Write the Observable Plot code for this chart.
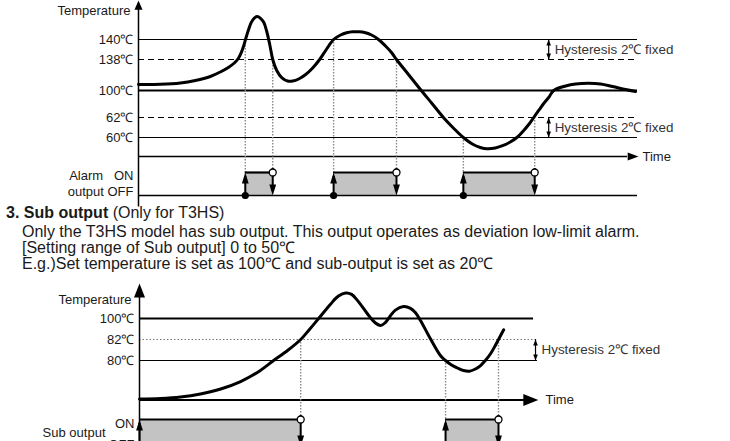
<!DOCTYPE html>
<html><head><meta charset="utf-8">
<script src="https://cdn.jsdelivr.net/npm/d3@7"></script>
<script src="https://cdn.jsdelivr.net/npm/@observablehq/plot@0.6"></script>
<style>
html,body{margin:0;padding:0;background:#fff;overflow:hidden;width:730px;height:441px}
#wrap{font-family:"Liberation Sans",Arial,Helvetica,sans-serif;color:#1a1a1a;position:relative}
#txt{height:78px;position:relative;font-size:16px;line-height:16.5px}
#txt div{position:absolute;white-space:nowrap}
svg{display:block}
</style></head><body><div id="wrap"><div id="top"></div>
<div id="txt">
<div style="left:6px;top:4.5px"><b>3. Sub output</b> (Only for T3HS)</div>
<div style="left:22px;top:23.5px">Only the T3HS model has sub output. This output operates as deviation low-limit alarm.</div>
<div style="left:22px;top:39.5px">[Setting range of Sub output] 0 to 50℃</div>
<div style="left:22px;top:55.5px">E.g.)Set temperature is set as 100℃ and sub-output is set as 20℃</div>
</div>
<div id="bot"></div></div>
<script>
// ---------- Top diagram data (alarm output) ----------
const topTime = [0, 4.4, 8.4, 11.4, 14.4, 16.4, 18.0, 19.2, 20.0, 20.6, 21.1, 21.5, 22.0, 22.6, 23.2, 23.8, 24.4, 25.1, 25.7, 26.3, 26.9, 27.7, 28.7, 29.9, 30.9, 32.1, 33.5, 34.9, 36.3, 37.7, 39.1, 40.5, 41.7, 42.9, 44.1, 45.3, 46.7, 48.1, 49.5, 50.7, 51.7, 54.1, 56.5, 58.9, 61.1, 63.1, 65.1, 66.9, 68.5, 69.9, 71.5, 73.1, 74.5, 75.95, 77.2, 78.2, 79.2, 80.2, 81.2, 82.2, 83.2, 85.6, 87.6, 90.2, 92.6, 95.0, 97.6, 99.6];
const topTemp = [107.4, 107.6, 109.2, 112.3, 117.2, 122.7, 128.2, 133.7, 138.1, 138.7, 139.4, 140.26, 142.3, 144.4, 145.5, 145.9, 145.5, 144.4, 142.05, 139.5, 138, 124.5, 115.9, 111.6, 111.6, 114.1, 119.6, 127.6, 138, 139.05, 140, 141.15, 141.74, 142.0, 141.97, 141.79, 141.15, 140, 139.35, 138.7, 138, 119.6, 101.2, 81.0, 62.05, 60.95, 60, 53.2, 49.5, 48.1, 48.9, 51.6, 55.3, 60.05, 60.7, 61.3, 62, 71.9, 81.7, 90.1, 100, 105.5, 108.0, 108.9, 108.0, 104.9, 101.2, 98.6];
const topLevels = [140, 138, 100, 62, 60];
const topTickLabels = ["140℃", "138℃", "100℃", "62℃", "60℃"];
const topLevelKinds = ["limit", "hyst", "set", "hyst", "limit"];
const topAlarmOnTimes = [21.4, 39.1, 65.1];
const topAlarmOffTimes = [26.9, 51.7, 79.4];
const topAlarmOnTemps = [140, 140, 60];
const topAlarmOffTemps = [138, 138, 62];
const topHystBands = [[138, 140], [60, 62]];
// diagram levels (the drawing is not to scale): output OFF, output ON, time axis, ticks, axis top
const topYDomain = [20, 30, 40, 60, 62, 100, 138, 140, 150];
const topOFF = 20, topON = 30, topTimeAxis = 40, topAxisTop = 150;

// ---------- Bottom diagram data (sub output) ----------
const botTime = [0, 5.3, 10.3, 15.3, 20.4, 25.4, 29.6, 33.7, 37.2, 40.5, 42.7, 45.0, 48.0, 50.0, 51.8, 53.3, 54.8, 57.3, 59.0, 60.6, 61.8, 62.8, 64.3, 66.3, 68.1, 69.3, 70.6, 73.1, 75.6, 76.9, 78.4, 79.9, 81.4, 82.9, 84.4, 85.7, 86.9, 88.2, 89.4, 90.2, 91.5];
const botTemp = [41.0, 41.5, 43.0, 46.1, 51.1, 58.7, 67.8, 80, 80.95, 82, 90.6, 100, 104.1, 106.4, 107.3, 106.9, 105.1, 101.3, 97.0, 94.0, 96.6, 100.4, 102.4, 103.4, 102.9, 101.7, 98.3, 82.6, 80.48, 80, 75.4, 72.4, 69.9, 69.2, 71.4, 74.9, 80, 80.64, 81.43, 82, 90.3];
const botLevels = [100, 82, 80];
const botTickLabels = ["100℃", "82℃", "80℃"];
const botLevelKinds = ["set", "hyst", "limit"];
const botOnTimes = [0, 76.9];
const botOffTimes = [40.5, 90.2];
const botOnTemps = [null, 80];
const botOffTemps = [82, 82];
const botHystBands = [[80, 82]];
const botYDomain = [20, 30, 40, 80, 82, 100, 110];
const botOFF = 20, botON = 30, botTimeAxis = 40, botAxisTop = 110;

// ---------- helpers ----------
function arrowHead(ratio) {
  return {draw(ctx, size) {
    const r = Math.sqrt(size / Math.PI), h = 2 * r * ratio;
    ctx.moveTo(0, 0); ctx.lineTo(-r, h); ctx.lineTo(r, h); ctx.closePath();
  }};
}
const FONT = '"Liberation Sans", Arial, Helvetica, sans-serif';
const FS = 13;

function diagram(o) {
  const curve = o.time.map((t, i) => ({t, temp: o.temp[i]}));
  const lines = o.levels.map((v, i) => ({v, label: o.labels[i], kind: o.kinds[i]}));
  const pulses = o.onTimes.map((t, i) => ({on: t, off: o.offTimes[i], onTemp: o.onTemps[i], offTemp: o.offTemps[i]}));
  const hyst = o.bands.map(([lo, hi]) => ({lo, hi, mid: (lo + hi) / 2}));
  // piecewise (not-to-scale) vertical layout of the diagram, used as the y scale transform
  const depth = d3.scaleLinear().domain(o.yDomain).range(o.yDepth);
  const T = "#1a1a1a";
  return Plot.plot({
    width: 730, height: o.height, margin: 0,
    x: {domain: [0, 100], range: o.xRange, axis: null},
    y: {transform: depth, domain: [0, o.height], range: [0, o.height], axis: null},
    style: {fontFamily: FONT, fontSize: FS + "px", color: "#000", background: "transparent", overflow: "visible"},
    marks: [
      Plot.rect(pulses, {x1: "on", x2: "off", y1: o.OFF, y2: o.ON, fill: "#c3c3c3"}),
      Plot.ruleY(lines.filter(d => d.kind === "limit"), {y: "v", x1: 0, x2: 100, stroke: "#000", strokeWidth: 1.2}),
      Plot.ruleY(lines.filter(d => d.kind === "set"), {y: "v", x1: 0, x2: o.setEnd, stroke: "#000", strokeWidth: 2}),
      Plot.ruleY(lines.filter(d => d.kind === "hyst"), {y: "v", x1: 0, x2: 100, stroke: o.hystColor, strokeWidth: 1.2, strokeDasharray: o.hystDash}),
      Plot.ruleY([o.timeAxis], {x1: 0, x2: 98, stroke: "#000", strokeWidth: o.timeWidth}),
      Plot.dot([o.timeAxis], {x: 100.2, y: d => d, r: o.timeHead[0], symbol: arrowHead(o.timeHead[1]), rotate: 90, fill: "#000", stroke: "none"}),
      Plot.ruleX(pulses.filter(d => d.onTemp != null), {x: "on", y1: "onTemp", y2: o.ON, stroke: "#8a8a8a", strokeWidth: 1.4, strokeDasharray: "1.5,1.5"}),
      Plot.ruleX(pulses, {x: "off", y1: "offTemp", y2: o.ON, stroke: "#8a8a8a", strokeWidth: 1.4, strokeDasharray: "1.5,1.5"}),
      Plot.line(curve, {x: "t", y: "temp", curve: "catmull-rom", stroke: "#000", strokeWidth: 3}),
      Plot.ruleX([0], {y1: o.OFF - 5, y2: o.axisTop - 2, stroke: "#000", strokeWidth: 1.5}),
      Plot.dot([0], {x: 0, y: o.axisTop, r: o.yHead[0], symbol: arrowHead(o.yHead[1]), fill: "#000", stroke: "none"}),
      Plot.ruleY([o.OFF], {x1: 0, x2: 100, stroke: "#000", strokeWidth: 1.5}),
      Plot.ruleY(pulses, {y: o.ON, x1: "on", x2: "off", stroke: "#000", strokeWidth: 2.2}),
      Plot.ruleX(pulses, {x: "on", y1: o.OFF, y2: o.ON, stroke: "#000", strokeWidth: 2, dy: 4}),
      Plot.dot(pulses, {x: "on", y: o.ON, r: 3.4, symbol: arrowHead(1.6), fill: "#000", stroke: "none"}),
      Plot.ruleX(pulses, {x: "off", y1: o.OFF, y2: o.ON, stroke: "#000", strokeWidth: 2, dy: -4}),
      Plot.dot(pulses, {x: "off", y: o.OFF, r: 3.4, symbol: arrowHead(1.6), rotate: 180, fill: "#000", stroke: "none"}),
      Plot.dot(pulses.filter(d => d.on > 0), {x: "on", y: o.OFF, r: 3.6, fill: "#000", stroke: "none"}),
      Plot.dot(pulses, {x: "off", y: o.ON, r: 3.5, fill: "#fff", stroke: "#000", strokeWidth: 1.3}),
      // hysteresis markers
      Plot.ruleX(hyst, {x: o.hystX, y1: "lo", y2: "hi", stroke: "#000", strokeWidth: 1.2}),
      Plot.dot(hyst, {x: o.hystX, y: "hi", r: 2.3, symbol: arrowHead(1.3), fill: "#000", stroke: "none"}),
      Plot.dot(hyst, {x: o.hystX, y: "lo", r: 2.3, symbol: arrowHead(1.3), rotate: 180, fill: "#000", stroke: "none"}),
      Plot.text(hyst, {x: o.hystX, y: "mid", text: () => "Hysteresis 2℃ fixed", dx: 6, textAnchor: "start", fill: "#333", fontSize: 13.4}),
      // labels
      Plot.text(lines, {x: 0, y: "v", text: "label", dx: -5, textAnchor: "end", fill: T, fontSize: FS}),
      Plot.text(["Temperature"], {x: 0, y: o.axisTop, dx: -8, dy: o.tempDy, textAnchor: "end", fill: T, fontSize: FS}),
      Plot.text(["Time"], {x: 100, y: o.timeAxis, dx: o.timeDx, textAnchor: "start", fill: T, fontSize: FS}),
      ...o.outLabels.map(l => Plot.text([l.text], {x: 0, y: l.y, dx: l.dx, dy: l.dy, textAnchor: "end", fill: T, fontSize: FS}))
    ]
  });
}

document.getElementById("top").append(diagram({
  height: 200, xRange: [138, 637], yDomain: topYDomain,
  yDepth: [195, 172, 156, 137, 117, 90, 59, 39, 0],
  time: topTime, temp: topTemp, levels: topLevels, labels: topTickLabels, kinds: topLevelKinds,
  onTimes: topAlarmOnTimes, offTimes: topAlarmOffTimes, onTemps: topAlarmOnTemps, offTemps: topAlarmOffTemps,
  bands: topHystBands, OFF: topOFF, ON: topON, timeAxis: topTimeAxis, axisTop: topAxisTop,
  setEnd: 100, hystColor: "#000", hystDash: "6,4", timeWidth: 1.5, timeHead: [4, 1.35], yHead: [4, 1.15],
  hystX: 82.2, tempDy: 10, timeDx: 5,
  outLabels: [{text: "Alarm\u00a0\u00a0\u00a0ON", y: topON, dx: -5, dy: 3}, {text: "output OFF", y: topOFF, dx: -5, dy: -4}]
}));

document.getElementById("bot").append(diagram({
  height: 175, xRange: [139, 537], yDomain: botYDomain,
  yDepth: [168, 141, 121.5, 82, 61, 40, 5],
  time: botTime, temp: botTemp, levels: botLevels, labels: botTickLabels, kinds: botLevelKinds,
  onTimes: botOnTimes, offTimes: botOffTimes, onTemps: botOnTemps, offTemps: botOffTemps,
  bands: botHystBands, OFF: botOFF, ON: botON, timeAxis: botTimeAxis, axisTop: botAxisTop,
  setEnd: 99, hystColor: "#777", hystDash: "1.5,2", timeWidth: 2, timeHead: [6, 1.25], yHead: [5.5, 1.27],
  hystX: 99.5, tempDy: 16, timeDx: 8,
  outLabels: [{text: "ON", y: botON, dx: -5, dy: 4}, {text: "Sub output", y: 25, dx: -34, dy: 0}, {text: "OFF", y: botOFF, dx: -5, dy: -2}]
}));
</script></body></html>
